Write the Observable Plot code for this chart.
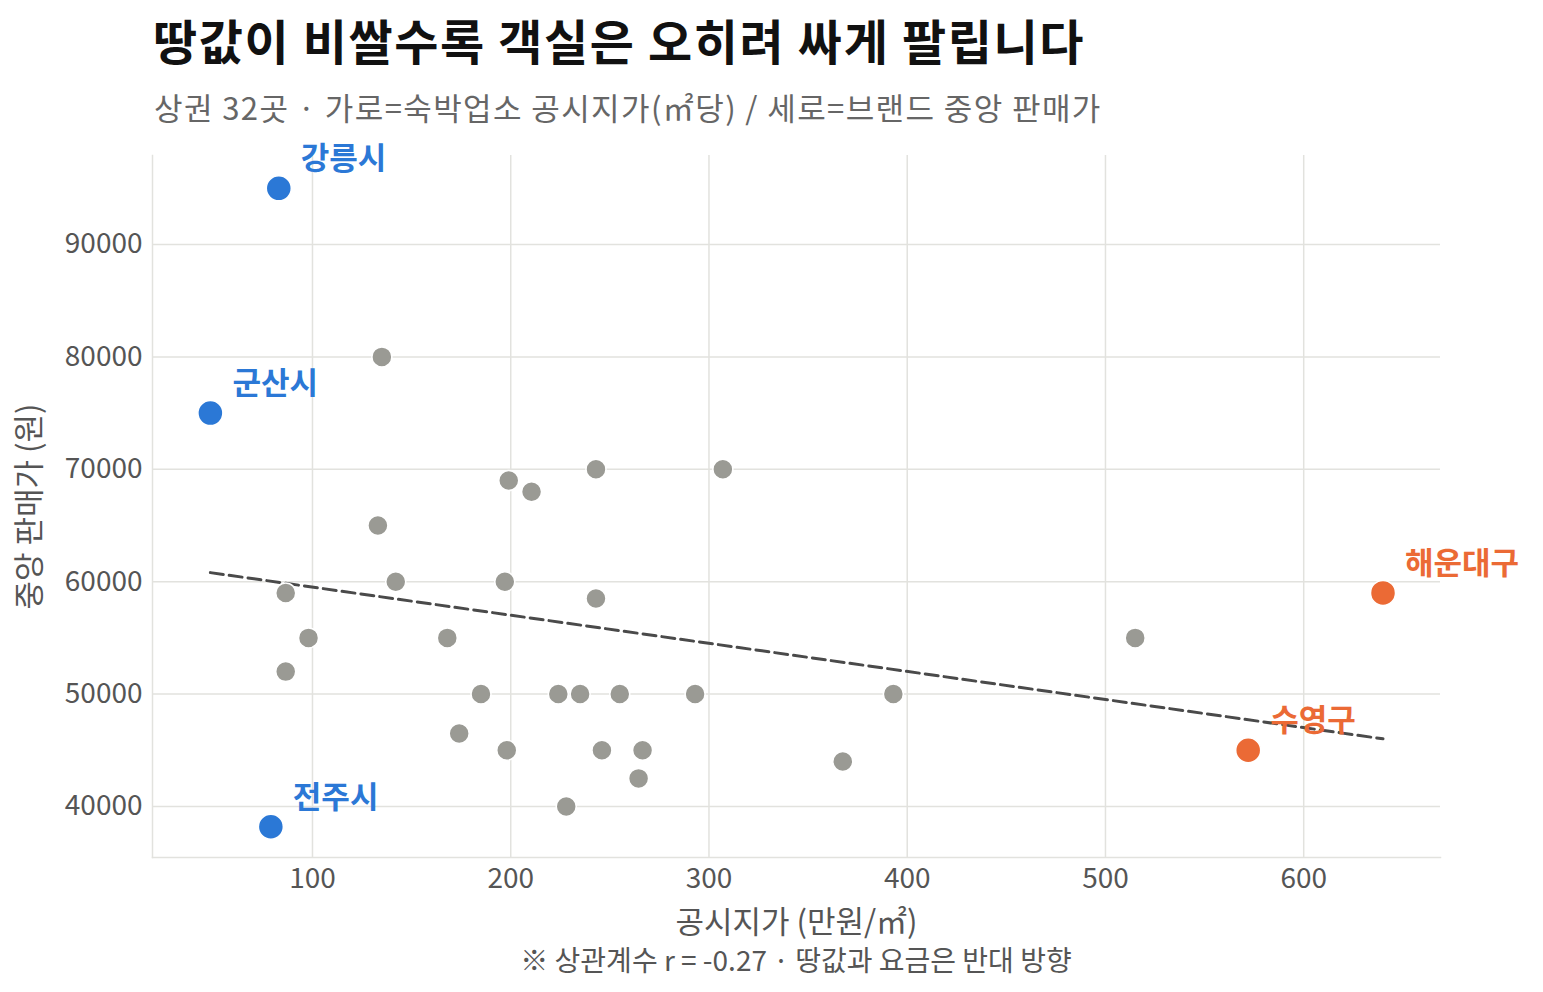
<!DOCTYPE html>
<html><head><meta charset="utf-8">
<script src="https://cdn.jsdelivr.net/npm/d3@7"></script>
<script src="https://cdn.jsdelivr.net/npm/@observablehq/plot@0.6"></script>
<style>
body{margin:0;background:#fff;font-family:"Noto Sans CJK KR","Noto Sans",sans-serif;}
#title{position:absolute;left:153px;top:11px;font-size:48px;font-weight:700;color:#111;line-height:1.2;white-space:nowrap;letter-spacing:1.6px;}
#subtitle{position:absolute;left:154px;top:88px;font-size:31px;color:#666;line-height:1.2;white-space:nowrap;letter-spacing:1.4px;}
#chart{position:absolute;left:0;top:130px;}
#caption{position:absolute;left:152px;width:1288px;top:943px;text-align:center;font-size:28px;color:#555;line-height:1.2;}
</style></head>
<body>
<div id="title">땅값이 비쌀수록 객실은 오히려 싸게 팔립니다</div>
<div id="subtitle">상권 32곳 · 가로=숙박업소 공시지가(㎡당) / 세로=브랜드 중앙 판매가</div>
<div id="chart"></div>
<div id="caption">※ 상관계수 r = -0.27 · 땅값과 요금은 반대 방향</div>
<script>
// Highlighted markets
const hiNames = ["강릉시", "군산시", "전주시", "해운대구", "수영구"];
const hiLand  = [83, 48.5, 79, 640, 572];
const hiPrice = [95000, 75000, 38200, 59000, 45000];
const hiGroup = ["low", "low", "low", "high", "high"];
// Other markets
const otherLand  = [135, 133, 199, 210.5, 243, 307, 86.5, 142, 197, 243, 98, 168, 515, 86.5, 185, 224, 235, 255, 293, 393, 174, 198, 246, 266.5, 264.5, 367.5, 228];
const otherPrice = [80000, 65000, 69000, 68000, 70000, 70000, 59000, 60000, 60000, 58500, 55000, 55000, 55000, 52000, 50000, 50000, 50000, 50000, 50000, 50000, 46500, 45000, 45000, 45000, 42500, 44000, 40000];
const xTicks = [100, 200, 300, 400, 500, 600];
const yTicks = [40000, 50000, 60000, 70000, 80000, 90000];
const groupColors = {low: "#2b78d6", high: "#eb6a35"};

const hi = hiNames.map((n, i) => ({name: n, x: hiLand[i], y: hiPrice[i], g: hiGroup[i]}));
const others = otherLand.map((x, i) => ({x, y: otherPrice[i]}));
const all = others.concat(hi);

const font = '"Noto Sans CJK KR","Noto Sans",sans-serif';
const chart = Plot.plot({
  width: 1543,
  height: 812,
  marginLeft: 152,
  marginRight: 103,
  marginTop: 25,
  marginBottom: 85,
  style: {fontFamily: font, background: "white"},
  x: {domain: [19.3, 669], ticks: xTicks},
  y: {domain: [35460, 97920], ticks: yTicks},
  marks: [
    Plot.gridX(xTicks, {stroke: "#e2e2de", strokeOpacity: 1, strokeWidth: 1.5}),
    Plot.gridY(yTicks, {stroke: "#e2e2de", strokeOpacity: 1, strokeWidth: 1.5}),
    Plot.frame({anchor: "left", stroke: "#e2e2de", strokeWidth: 1.5}),
    Plot.frame({anchor: "bottom", stroke: "#e2e2de", strokeWidth: 1.5}),
    Plot.axisX(xTicks, {tickSize: 0, tickPadding: 11, fontSize: 28, color: "#555", label: "공시지가 (만원/㎡)", labelAnchor: "center", labelArrow: "none", labelOffset: 75}),
    Plot.axisY(yTicks, {tickSize: 0, tickPadding: 10, fontSize: 28, color: "#555", tickFormat: d => String(d), label: "중앙 판매가 (원)", labelAnchor: "center", labelArrow: "none", labelOffset: 135}),
    Plot.linearRegressionY(all, {x: "x", y: "y", ci: 0, stroke: "#4a4a4a", strokeWidth: 3, strokeDasharray: "13,6"}),
    Plot.dot(others, {x: "x", y: "y", r: 10, fill: "#9a9a94", stroke: "white", strokeWidth: 1.5}),
    Plot.dot(hi, {x: "x", y: "y", r: 12.5, fill: d => groupColors[d.g], stroke: "white", strokeWidth: 1.5}),
    Plot.text(hi, {x: "x", y: "y", text: "name", fill: d => groupColors[d.g], fontSize: 31, fontWeight: "bold", textAnchor: "start", dx: 22, dy: -29})
  ]
});
chart.querySelectorAll('g[aria-label="x-axis label"] text, g[aria-label="y-axis label"] text').forEach(t => { t.setAttribute("font-size", 31); t.setAttribute("fill", "#555"); });
document.getElementById("chart").appendChild(chart);
</script>
</body></html>
